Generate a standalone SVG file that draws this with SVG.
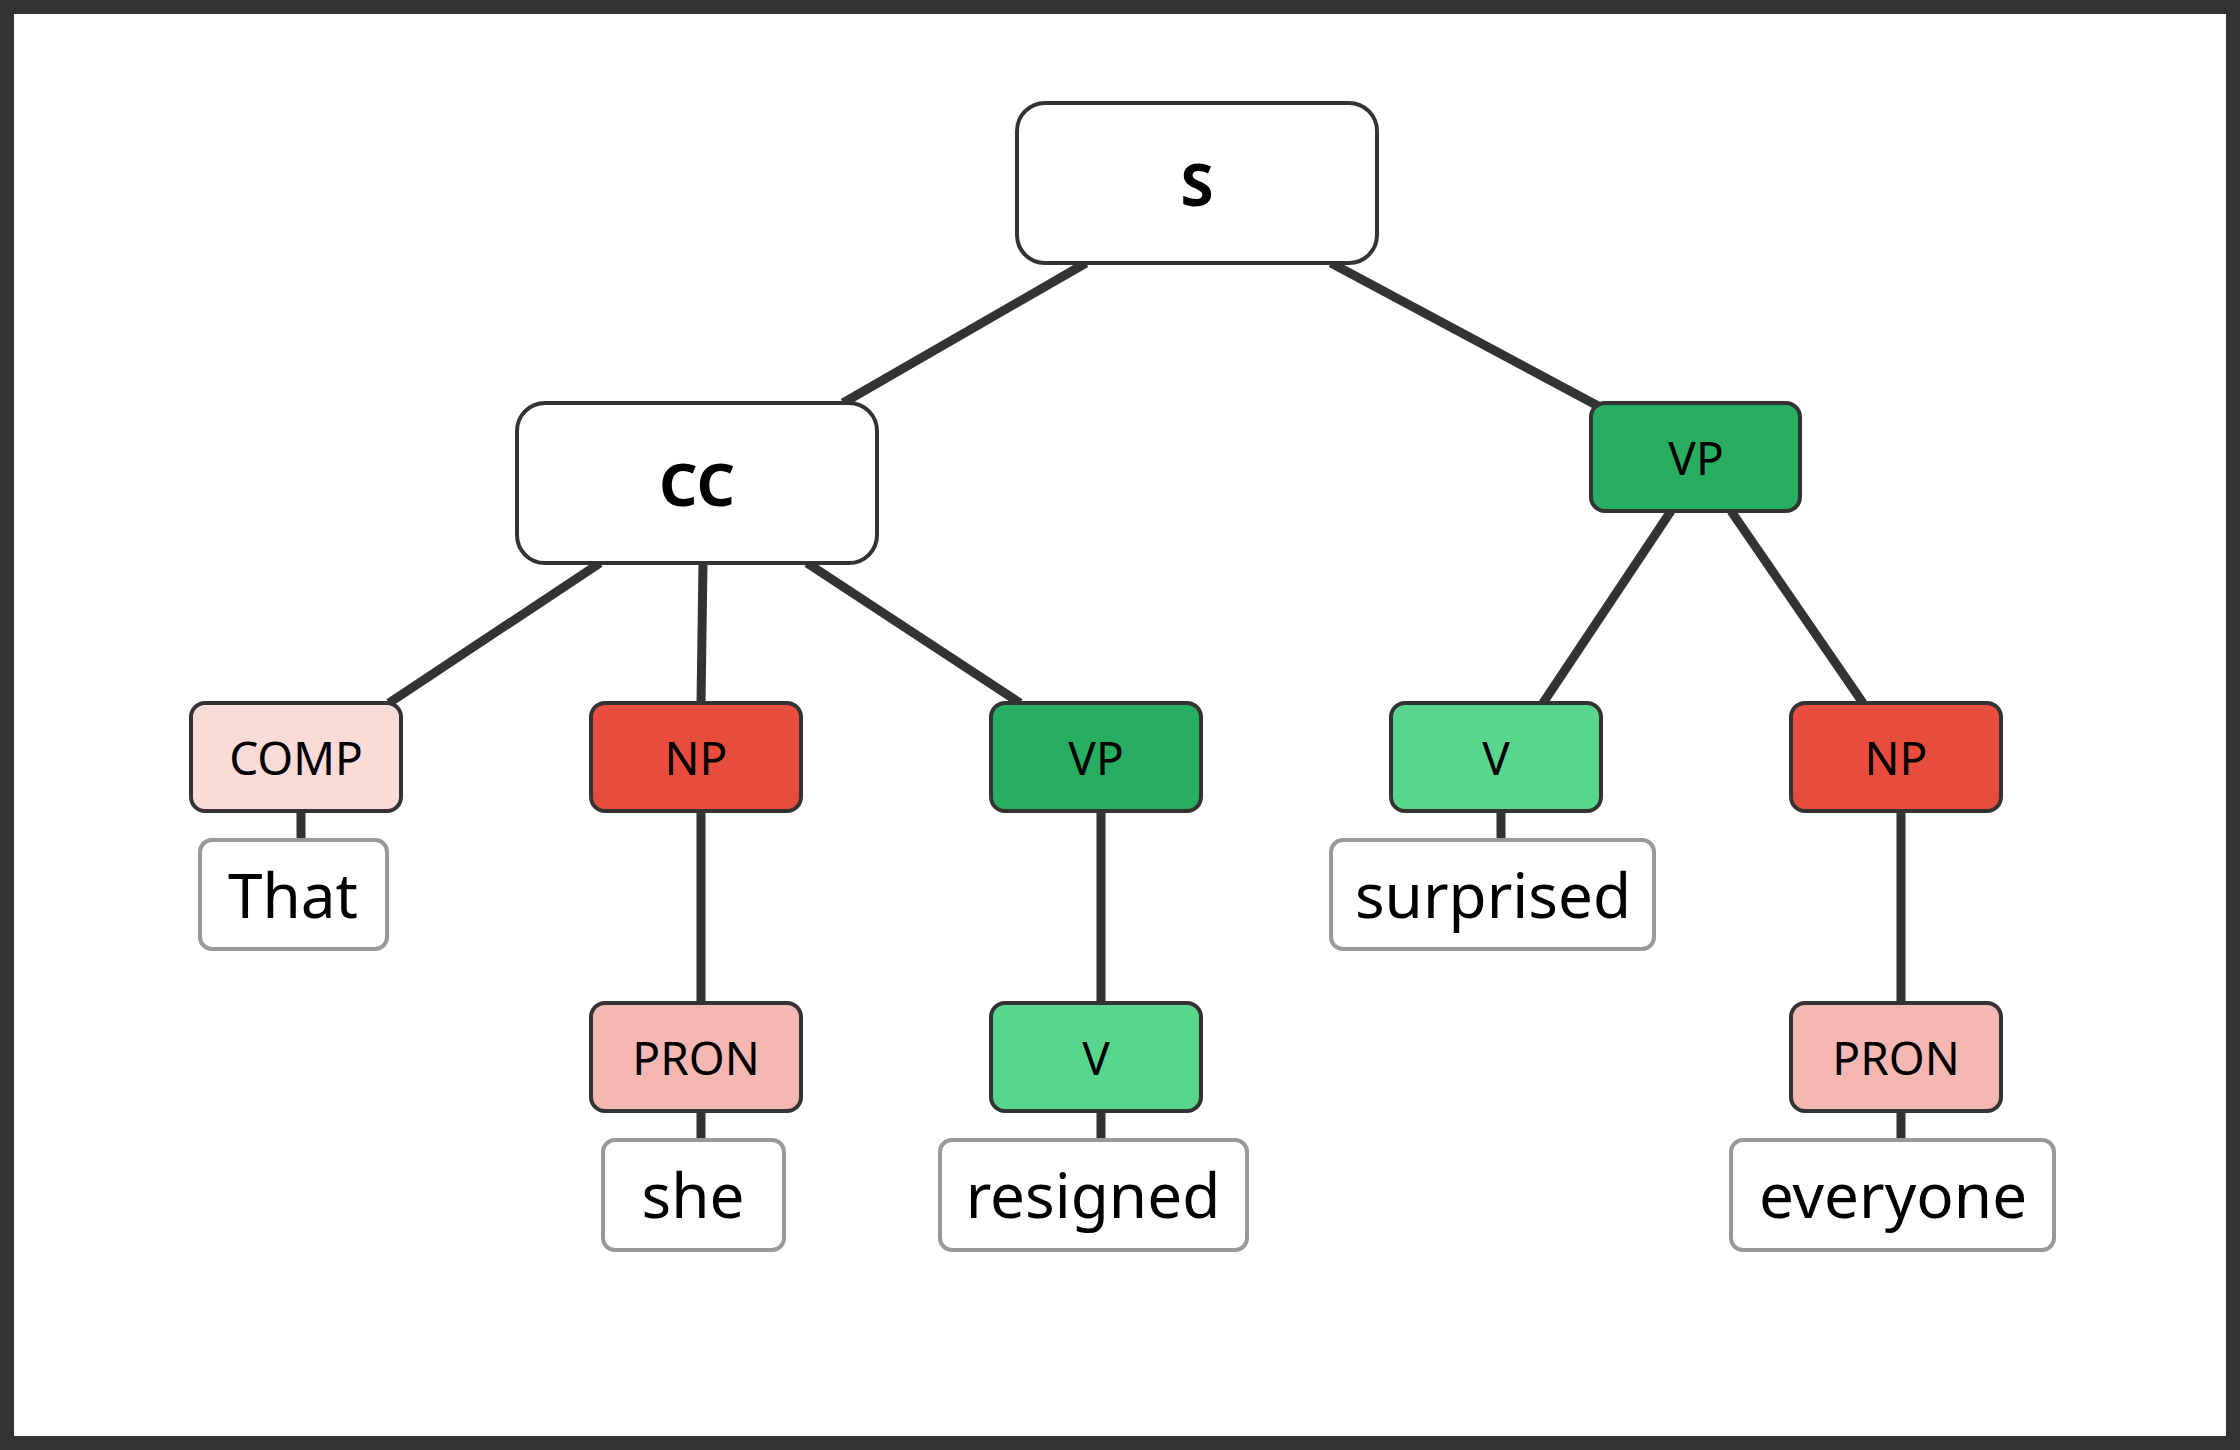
<svg xmlns="http://www.w3.org/2000/svg" width="2240" height="1450" viewBox="0 0 2240 1450">
<style>
.n{stroke:#333;stroke-width:4}
.w{fill:#fff;stroke:#999;stroke-width:4}
.t{font-family:"Noto Sans","Open Sans",sans-serif;font-size:46px;fill:#000;text-anchor:middle;dominant-baseline:central}
.b{font-family:"Noto Sans","Open Sans",sans-serif;font-size:60px;font-weight:bold;fill:#000;text-anchor:middle;dominant-baseline:central}
.wt{font-family:"Noto Sans","Open Sans",sans-serif;font-size:62px;fill:#000;text-anchor:middle;dominant-baseline:central}
.e{stroke:#333;stroke-width:9;fill:none}
</style>
<rect width="2240" height="1450" fill="#fff"/>
<rect x="7" y="7" width="2226" height="1436" fill="none" stroke="#333" stroke-width="14"/>
<g id="connectors">
<line class="e" x1="1086" y1="263" x2="843" y2="403"/>
<line class="e" x1="1331" y1="263" x2="1600" y2="407"/>
<line class="e" x1="600" y1="563" x2="389" y2="703"/>
<line class="e" x1="703" y1="563" x2="701" y2="703"/>
<line class="e" x1="807" y1="563" x2="1020" y2="703"/>
<line class="e" x1="1671" y1="511" x2="1543" y2="703"/>
<line class="e" x1="1731" y1="511" x2="1863" y2="703"/>
<line class="e" x1="701" y1="811" x2="701" y2="1003"/>
<line class="e" x1="1101" y1="811" x2="1101" y2="1003"/>
<line class="e" x1="1901" y1="811" x2="1901" y2="1003"/>
<line class="e" x1="301" y1="811" x2="301" y2="840"/>
<line class="e" x1="1501" y1="811" x2="1501" y2="840"/>
<line class="e" x1="701" y1="1111" x2="701" y2="1140"/>
<line class="e" x1="1101" y1="1111" x2="1101" y2="1140"/>
<line class="e" x1="1901" y1="1111" x2="1901" y2="1140"/>
</g>
<g id="S"><rect class="n" x="1017" y="103" width="360" height="160" rx="28" fill="#fff"/><text class="b" x="1197" y="183">S</text></g>
<g id="CC"><rect class="n" x="517" y="403" width="360" height="160" rx="28" fill="#fff"/><text class="b" x="697" y="483">CC</text></g>
<g id="VP1"><rect class="n" x="1591" y="403" width="209" height="108" rx="14" fill="#27ae60"/><text class="t" x="1696" y="457">VP</text></g>
<g id="COMP"><rect class="n" x="191" y="703" width="210" height="108" rx="14" fill="#fadbd8"/><text class="t" x="296" y="757">COMP</text></g>
<g id="NP1"><rect class="n" x="591" y="703" width="210" height="108" rx="14" fill="#e74c3c"/><text class="t" x="696" y="757">NP</text></g>
<g id="VP2"><rect class="n" x="991" y="703" width="210" height="108" rx="14" fill="#27ae60"/><text class="t" x="1096" y="757">VP</text></g>
<g id="V1"><rect class="n" x="1391" y="703" width="210" height="108" rx="14" fill="#58d68d"/><text class="t" x="1496" y="757">V</text></g>
<g id="NP2"><rect class="n" x="1791" y="703" width="210" height="108" rx="14" fill="#e74c3c"/><text class="t" x="1896" y="757">NP</text></g>
<g id="PRON1"><rect class="n" x="591" y="1003" width="210" height="108" rx="14" fill="#f5b7b1"/><text class="t" x="696" y="1057">PRON</text></g>
<g id="V2"><rect class="n" x="991" y="1003" width="210" height="108" rx="14" fill="#58d68d"/><text class="t" x="1096" y="1057">V</text></g>
<g id="PRON2"><rect class="n" x="1791" y="1003" width="210" height="108" rx="14" fill="#f5b7b1"/><text class="t" x="1896" y="1057">PRON</text></g>
<g id="That"><rect class="w" x="200" y="840" width="187" height="109" rx="12"/><text class="wt" x="293" y="894">That</text></g>
<g id="surprised"><rect class="w" x="1331" y="840" width="323" height="109" rx="12"/><text class="wt" x="1493" y="894">surprised</text></g>
<g id="she"><rect class="w" x="603" y="1140" width="181" height="110" rx="12"/><text class="wt" x="693" y="1194">she</text></g>
<g id="resigned"><rect class="w" x="940" y="1140" width="307" height="110" rx="12"/><text class="wt" x="1093" y="1194">resigned</text></g>
<g id="everyone"><rect class="w" x="1731" y="1140" width="323" height="110" rx="12"/><text class="wt" x="1893" y="1194">everyone</text></g>
</svg>
